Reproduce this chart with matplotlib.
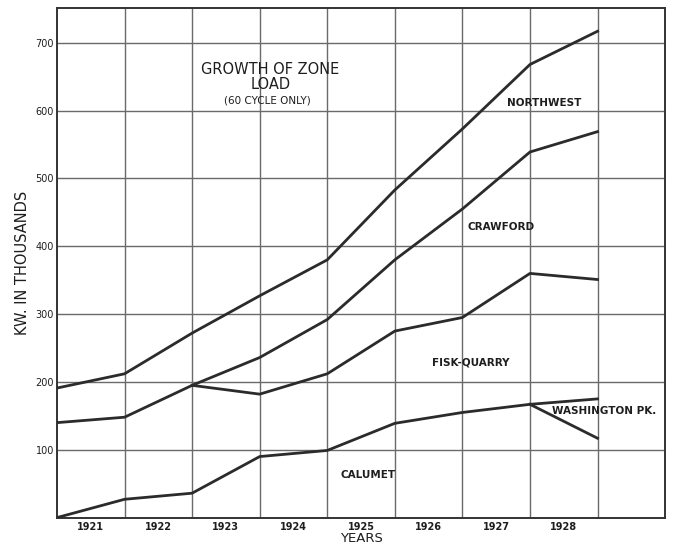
"""Growth of zone load (60 cycle only), redrawn from an old hand-lettered chart."""
import numpy as np
from matplotlib import pyplot as plt

YEARS = ['1921', '1922', '1923', '1924', '1925', '1926', '1927', '1928']
Y_TICKS = [100, 200, 300, 400, 500, 600, 700]

# readings taken at the year boundaries (grid lines), first point at the left edge
northwest = [191, 212, 272, 327, 380, 483, 573, 668, 717]
crawford = [140, 148, 195, 236, 292, 380, 455, 539, 569]
# Fisk-Quarry branches off Crawford at the third reading
fisk_quarry = [195, 182, 212, 275, 295, 360, 351]
calumet = [0, 27, 36, 90, 99, 139, 155, 167, 175]
# Washington Pk. branches off Calumet at the eighth reading
washington_pk = [167, 117]

LINE_COLOR = '#2b2b2b'
GRID_COLOR = '#6a6a6a'
TEXT_COLOR = '#1e1e1e'

fig = plt.figure(figsize=(6.78, 5.46), dpi=100)
fig.patch.set_facecolor('white')
ax = fig.add_axes([0.084, 0.052, 0.897, 0.933])

# Grid: vertical lines at each reading, horizontal at every 100
for xv in range(1, 9):
    ax.axvline(xv, color=GRID_COLOR, lw=1.0, zorder=1)
for yv in Y_TICKS:
    ax.axhline(yv, color=GRID_COLOR, lw=1.0, zorder=1)

lw = 2.0
ax.plot(np.arange(len(northwest)), northwest, color=LINE_COLOR, lw=lw, zorder=3)
ax.plot(np.arange(len(crawford)), crawford, color=LINE_COLOR, lw=lw, zorder=3)
ax.plot(np.arange(2, 2 + len(fisk_quarry)), fisk_quarry, color=LINE_COLOR, lw=lw, zorder=3)
ax.plot(np.arange(len(calumet)), calumet, color=LINE_COLOR, lw=lw, zorder=3)
ax.plot(np.arange(7, 7 + len(washington_pk)), washington_pk, color=LINE_COLOR, lw=lw, zorder=3)

ax.set_xlim(0, 9)
ax.set_ylim(0, 751)

ax.set_yticks(Y_TICKS)
ax.set_yticklabels([str(v) for v in Y_TICKS], fontsize=7, color=TEXT_COLOR)
ax.set_xticks(np.arange(len(YEARS)) + 0.5)
ax.set_xticklabels(YEARS, fontsize=7, color=TEXT_COLOR, fontweight='bold')
ax.tick_params(axis='both', length=0, pad=3)
ax.tick_params(axis='y', pad=2)

for spine in ax.spines.values():
    spine.set_color('#333333')
    spine.set_linewidth(1.4)

ax.set_xlabel('YEARS', fontsize=9.5, color=TEXT_COLOR, labelpad=0)
ax.set_ylabel('KW. IN THOUSANDS', fontsize=10.5, color=TEXT_COLOR, labelpad=4)

# Title block inside the chart
ax.text(3.16, 660, 'GROWTH OF ZONE', ha='center', va='center', fontsize=10.5, color=TEXT_COLOR)
ax.text(3.16, 638, 'LOAD', ha='center', va='center', fontsize=10.5, color=TEXT_COLOR)
ax.text(3.12, 615, '(60 CYCLE ONLY)', ha='center', va='center', fontsize=7.5, color=TEXT_COLOR)

# Line labels
label_kw = dict(ha='center', va='center', fontsize=7.5, color=TEXT_COLOR, fontweight='bold')
ax.text(7.21, 611, 'NORTHWEST', **label_kw)
ax.text(6.57, 428, 'CRAWFORD', **label_kw)
ax.text(6.13, 228, 'FISK-QUARRY', **label_kw)
ax.text(8.10, 157, 'WASHINGTON PK.', **label_kw)
ax.text(4.60, 63, 'CALUMET', **label_kw)

plt.savefig('out.png', dpi=100)
